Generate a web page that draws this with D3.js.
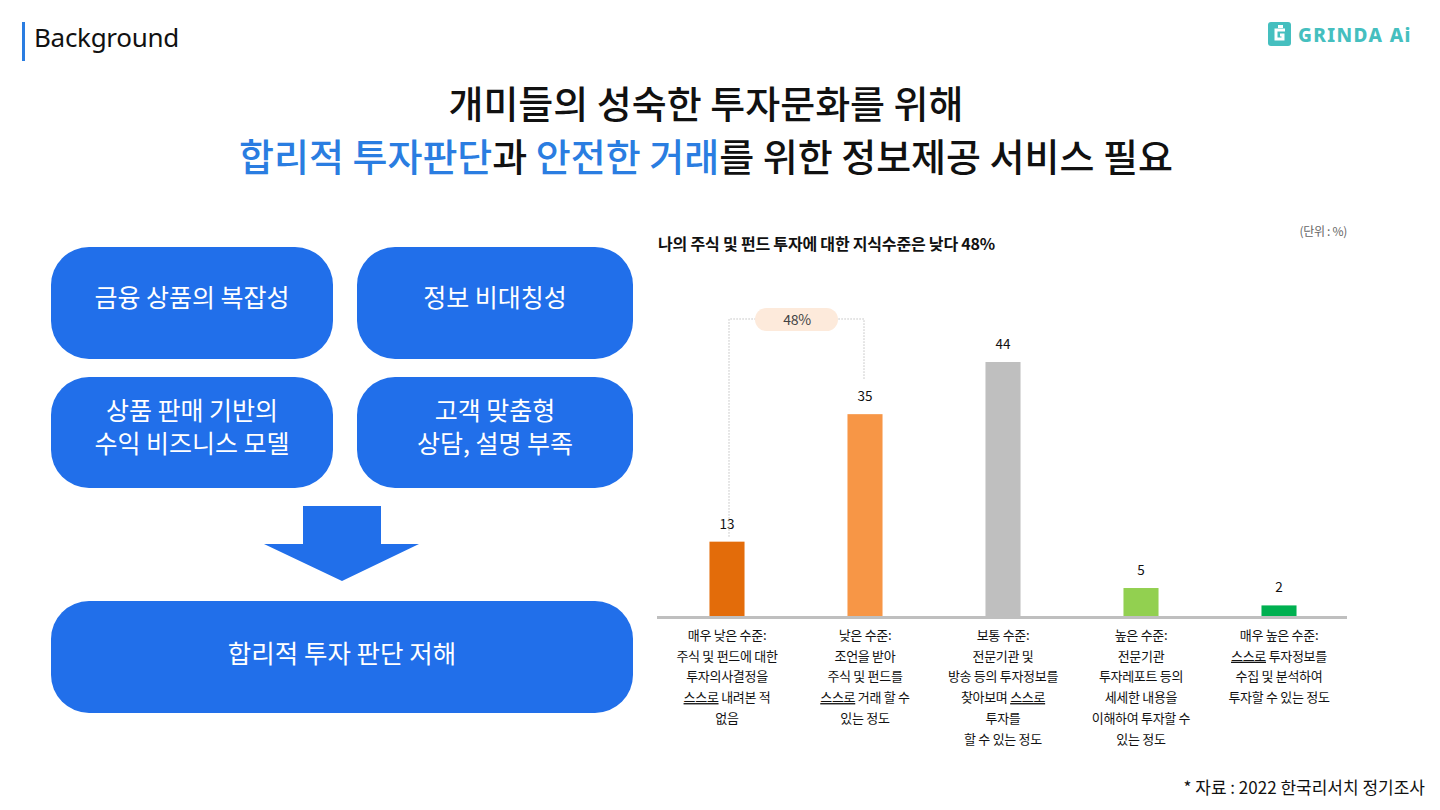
<!DOCTYPE html>
<html><head><meta charset="utf-8">
<script src="https://cdn.jsdelivr.net/npm/d3@7"></script>
<style>
html,body{margin:0;padding:0;background:#fff;}
svg{display:block;font-family:"Noto Sans CJK KR","Noto Sans",sans-serif;}
</style></head><body>
<script>
const categories = ["매우 낮은 수준", "낮은 수준", "보통 수준", "높은 수준", "매우 높은 수준"];
const values = [13, 35, 44, 5, 2];
const barColors = ["#e36c0a", "#f79646", "#bfbfbf", "#92d050", "#00b050"];
const catLabels = [
  [["매우 낮은 수준:"], ["주식 및 펀드에 대한"], ["투자의사결정을"], [["스스로", true], [" 내려본 적"]], ["없음"]],
  [["낮은 수준:"], ["조언을 받아"], ["주식 및 펀드를"], [["스스로", true], [" 거래 할 수"]], ["있는 정도"]],
  [["보통 수준:"], ["전문기관 및"], ["방송 등의 투자정보를"], [["찾아보며 "], ["스스로", true]], ["투자를"], ["할 수 있는 정도"]],
  [["높은 수준:"], ["전문기관"], ["투자레포트 등의"], ["세세한 내용을"], ["이해하여 투자할 수"], ["있는 정도"]],
  [["매우 높은 수준:"], [["스스로", true], [" 투자정보를"]], ["수집 및 분석하여"], ["투자할 수 있는 정도"]]
];
const chartTitle = "나의 주식 및 펀드 투자에 대한 지식수준은 낮다 48%";
const unitLabel = "(단위 : %)";
const bracketLabel = "48%";
const boxTexts = [["금융 상품의 복잡성"], ["정보 비대칭성"], ["상품 판매 기반의", "수익 비즈니스 모델"], ["고객 맞춤형", "상담, 설명 부족"]];
const resultText = "합리적 투자 판단 저해";
const sourceText = "* 자료 : 2022 한국리서치 정기조사";

const W = 1440, H = 810;
const BLUE = "#216fea", TBLUE = "#2a7de1";
const svg = d3.select("body").append("svg").attr("width", W).attr("height", H);

// Header
svg.append("rect").attr("x", 22).attr("y", 22).attr("width", 3).attr("height", 39).attr("fill", "#2a7de1");
svg.append("text").attr("x", 34).attr("y", 47).attr("font-family", "'Noto Sans','Open Sans',sans-serif")
  .attr("font-size", 26).attr("fill", "#111").attr("letter-spacing", "-0.3").text("Background");

// Logo
const lg = svg.append("g").attr("transform", "translate(1268,22)");
lg.append("rect").attr("width", 23).attr("height", 24).attr("rx", 3).attr("fill", "#45bfbf");
lg.append("path").attr("d", "M17,8 H8 V17 H15 V13 H12").attr("fill", "none").attr("stroke", "#fff").attr("stroke-width", 3);
lg.append("rect").attr("x", 10).attr("y", 3).attr("width", 5).attr("height", 3).attr("fill", "#fff");
lg.append("text").attr("x", 30).attr("y", 20).attr("font-family", "'Noto Sans',sans-serif").attr("font-weight", 800)
  .attr("font-size", 19).attr("fill", "#45bfbf").attr("letter-spacing", "1.4").text("GRINDA Ai");

// Main title
const t1 = svg.append("text").attr("x", 706).attr("y", 118).attr("text-anchor", "middle")
  .attr("font-size", 38).attr("font-weight", 500).attr("fill", "#111");
t1.text("개미들의 성숙한 투자문화를 위해");
const t2 = svg.append("text").attr("x", 706).attr("y", 171).attr("text-anchor", "middle")
  .attr("font-size", 38).attr("font-weight", 500).attr("fill", "#111");
[["합리적 투자판단", TBLUE], ["과 ", "#111"], ["안전한 거래", TBLUE], ["를 위한 정보제공 서비스 필요", "#111"]]
  .forEach(([s, c]) => t2.append("tspan").attr("fill", c).text(s));

// Left boxes
const boxes = [
  {x: 51, y: 247, w: 282, h: 112}, {x: 357, y: 247, w: 276, h: 112},
  {x: 51, y: 377, w: 282, h: 111}, {x: 357, y: 377, w: 276, h: 111}
];
boxes.forEach((b, i) => {
  svg.append("rect").attr("x", b.x).attr("y", b.y).attr("width", b.w).attr("height", b.h).attr("rx", 38).attr("fill", BLUE);
  const lines = boxTexts[i];
  lines.forEach((l, j) => {
    const cy = lines.length === 1 ? b.y + 51 : b.y + 34 + j * 33;
    svg.append("text").attr("x", b.x + b.w / 2).attr("y", cy).attr("dy", "0.36em").attr("text-anchor", "middle")
      .attr("font-size", 25).attr("font-weight", 400).attr("fill", "#fff").text(l);
  });
});
// Arrow
svg.append("path").attr("d", "M303,506 H381 V544 H419 L342,581 L264,544 H303 Z").attr("fill", BLUE);
// Result box
svg.append("rect").attr("x", 51).attr("y", 601).attr("width", 582).attr("height", 112).attr("rx", 38).attr("fill", BLUE);
svg.append("text").attr("x", 342).attr("y", 654).attr("dy", "0.36em").attr("text-anchor", "middle")
  .attr("font-size", 25.5).attr("font-weight", 400).attr("fill", "#fff").text(resultText);

// Chart
svg.append("text").attr("x", 658).attr("y", 250).attr("font-size", 16).attr("font-weight", 700).attr("fill", "#111")
  .attr("letter-spacing", "-0.2").text(chartTitle);
svg.append("text").attr("x", 1347).attr("y", 236).attr("text-anchor", "end").attr("font-size", 12).attr("fill", "#666")
  .attr("letter-spacing", "-0.3").text(unitLabel);

const x = d3.scaleBand().domain(categories).range([658, 1348]).paddingInner(0.746).paddingOuter(0.373);
const y = d3.scaleLinear().domain([0, 44]).range([617, 362]);

svg.selectAll("rect.bar").data(values).join("rect").attr("class", "bar")
  .attr("x", (d, i) => x(categories[i])).attr("width", x.bandwidth())
  .attr("y", d => y(d)).attr("height", d => y(0) - y(d)).attr("fill", (d, i) => barColors[i]);

svg.append("rect").attr("x", 657).attr("y", 616).attr("width", 690).attr("height", 3).attr("fill", "#bfbfbf");

svg.selectAll("text.val").data(values).join("text").attr("class", "val")
  .attr("x", (d, i) => x(categories[i]) + x.bandwidth() / 2).attr("y", d => y(d) - 13)
  .attr("text-anchor", "middle").attr("font-size", 13.5).attr("fill", "#111").text(d => d);

// Bracket
const bx1 = x(categories[0]) + x.bandwidth() / 2 + 2, bx2 = x(categories[1]) + x.bandwidth() / 2 - 1;
const by = 319;
svg.append("path").attr("d", `M${bx1},${y(values[0]) - 5} V${by} H${bx2} V${y(values[1]) - 34}`)
  .attr("fill", "none").attr("stroke", "#b0b0b0").attr("stroke-width", 0.8).attr("stroke-dasharray", "1.5,1.5");
svg.append("rect").attr("x", 755).attr("y", 308).attr("width", 83).attr("height", 23).attr("rx", 11.5).attr("fill", "#fdeadb");
svg.append("text").attr("x", 797).attr("y", 320).attr("dy", "0.36em").attr("text-anchor", "middle")
  .attr("font-size", 14).attr("fill", "#444").attr("letter-spacing", "-0.3").text(bracketLabel);

// Category labels
catLabels.forEach((lines, i) => {
  const cx = x(categories[i]) + x.bandwidth() / 2;
  lines.forEach((parts, j) => {
    const t = svg.append("text").attr("x", cx).attr("y", 640 + j * 20.7).attr("text-anchor", "middle")
      .attr("font-size", 13).attr("fill", "#111").attr("letter-spacing", "-0.3");
    const segs = typeof parts[0] === "string" ? [parts] : parts;
    segs.forEach(seg => {
      const ts = t.append("tspan").text(seg[0]);
      if (seg[1]) ts.attr("text-decoration", "underline");
    });
  });
});

// Source
svg.append("text").attr("x", 1425).attr("y", 794).attr("text-anchor", "end").attr("font-size", 17)
  .attr("fill", "#111").text(sourceText);
</script>
</body></html>
